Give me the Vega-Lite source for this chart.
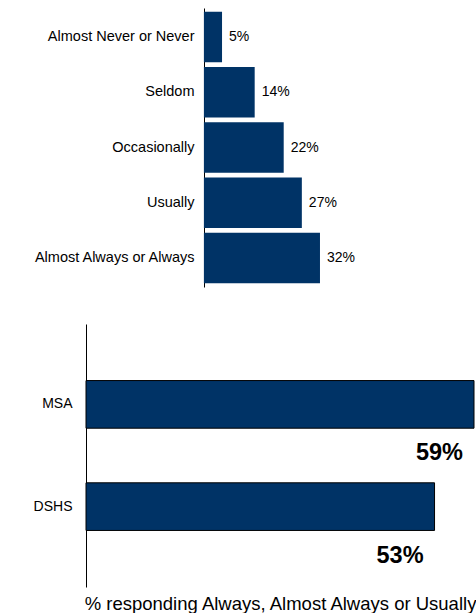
{
  "$schema": "https://vega.github.io/schema/vega-lite/v6.json",
  "padding": {"left": 32, "top": 8, "right": 0, "bottom": 0},
  "autosize": {"type": "pad"},
  "spacing": 37,
  "config": {"view": {"stroke": null}, "font": "Liberation Sans", "axis": {"grid": false}},
  "vconcat": [
    {
      "width": 263,
      "height": 279,
      "data": {"values": [
        {"response": "Almost Never or Never", "pct": 5, "label": "5%"},
        {"response": "Seldom", "pct": 14, "label": "14%"},
        {"response": "Occasionally", "pct": 22, "label": "22%"},
        {"response": "Usually", "pct": 27, "label": "27%"},
        {"response": "Almost Always or Always", "pct": 32, "label": "32%"}
      ]},
      "encoding": {
        "y": {"field": "response", "type": "nominal", "sort": null,
          "scale": {"paddingInner": 0.09, "paddingOuter": 0.07},
          "axis": {"title": null, "offset": -118, "domainColor": "#000000", "domainWidth": 1, "ticks": false, "tickSize": 0,
            "labelPadding": 10, "labelFontSize": 14.5, "labelColor": "#000000", "labelLimit": 300}},
        "x": {"field": "pct", "type": "quantitative", "scale": {"domain": [-32.5, 40], "nice": false}, "axis": null}
      },
      "layer": [
        {"mark": {"type": "bar", "color": "#003366"}},
        {"mark": {"type": "text", "align": "left", "baseline": "middle", "dx": 7, "fontSize": 14, "color": "#000000"},
          "encoding": {"text": {"field": "label", "type": "nominal"}}}
      ]
    },
    {
      "width": 388,
      "height": 263,
      "data": {"values": [
        {"group": "MSA", "pct": 59, "label": "59%"},
        {"group": "DSHS", "pct": 53, "label": "53%"}
      ]},
      "encoding": {
        "y": {"field": "group", "type": "nominal", "sort": null,
          "scale": {"paddingInner": 0.534, "paddingOuter": 0.553},
          "axis": {"title": null, "domainColor": "#000000", "domainWidth": 1, "ticks": false, "tickSize": 0,
            "labelPadding": 14, "labelFontSize": 14, "labelColor": "#000000"}},
        "x": {"field": "pct", "type": "quantitative", "scale": {"domain": [0, 59], "nice": false},
          "axis": {"title": "% responding Always, Almost Always or Usually", "titleFontSize": 18.5,
            "titleFontWeight": "normal", "titleColor": "#000000", "titlePadding": 7,
            "domain": false, "ticks": false, "labels": false, "grid": false}}
      },
      "layer": [
        {"mark": {"type": "bar", "color": "#003366", "stroke": "#000000", "strokeWidth": 1}},
        {"mark": {"type": "text", "align": "right", "baseline": "middle", "dx": -11, "dy": 49,
          "fontSize": 23.5, "fontWeight": "bold", "color": "#000000"},
          "encoding": {"text": {"field": "label", "type": "nominal"}}}
      ]
    }
  ]
}
